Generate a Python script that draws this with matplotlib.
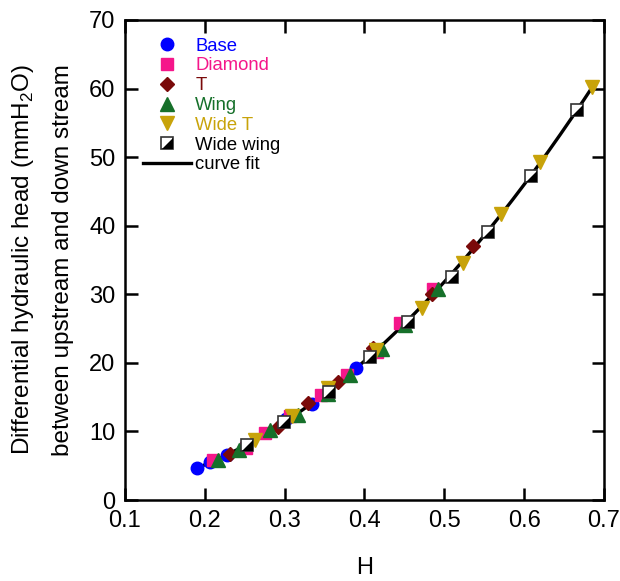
import numpy as np
import matplotlib
matplotlib.use("Agg")
import matplotlib.pyplot as plt

plt.rcParams["font.family"] = ["Liberation Sans", "DejaVu Sans"]
plt.rcParams["mathtext.fontset"] = "custom"
plt.rcParams["mathtext.rm"] = "Liberation Sans"

# data
base_x = [0.190, 0.207, 0.228, 0.302, 0.334, 0.389]
base_y = [4.7, 5.6, 6.6, 11.8, 14.0, 19.2]

diamond_x = [0.210, 0.252, 0.275, 0.307, 0.346, 0.378, 0.416, 0.445, 0.486]
diamond_y = [5.8, 7.6, 9.8, 12.3, 15.3, 18.2, 21.6, 25.8, 30.8]

t_x = [0.232, 0.292, 0.329, 0.367, 0.411, 0.485, 0.536]
t_y = [6.7, 10.6, 14.1, 17.2, 22.2, 30.0, 37.0]

wing_x = [0.217, 0.243, 0.282, 0.317, 0.354, 0.382, 0.422, 0.451, 0.492]
wing_y = [5.8, 7.3, 10.2, 12.4, 15.4, 18.2, 22.0, 25.5, 30.8]

widet_x = [0.263, 0.309, 0.354, 0.415, 0.472, 0.524, 0.571, 0.620, 0.685]
widet_y = [8.8, 12.2, 16.3, 21.9, 28.0, 34.6, 41.7, 49.3, 60.2]

wwing_x = [0.253, 0.299, 0.356, 0.407, 0.455, 0.510, 0.555, 0.609, 0.666]
wwing_y = [8.0, 11.4, 15.7, 20.9, 26.0, 32.5, 39.1, 47.3, 56.9]

xticks = [0.1, 0.2, 0.3, 0.4, 0.5, 0.6, 0.7]
yticks = [0, 10, 20, 30, 40, 50, 60, 70]

c_base = "#0000ff"
c_diamond = "#f5168a"
c_t = "#7a0a0a"
c_wing = "#16702a"
c_widet = "#c8a30a"

fig = plt.figure(figsize=(6.2, 5.81), dpi=100)
ax = fig.add_axes([0.2016, 0.1394, 0.7726, 0.8262])

# quadratic curve fit through all the measurements
all_x = np.concatenate([base_x, diamond_x, t_x, wing_x, widet_x, wwing_x])
all_y = np.concatenate([base_y, diamond_y, t_y, wing_y, widet_y, wwing_y])
coef = np.polyfit(all_x, all_y, 2)
fx = np.linspace(min(all_x), max(all_x), 200)
h_fit, = ax.plot(fx, np.polyval(coef, fx), color="black", lw=2.4, zorder=1)

h_base, = ax.plot(base_x, base_y, "o", color=c_base, ms=9, mec=c_base, ls="none", zorder=2)
h_dia, = ax.plot(diamond_x, diamond_y, "s", color=c_diamond, ms=8, ls="none", zorder=2)
h_t, = ax.plot(t_x, t_y, "D", color=c_t, ms=7.5, ls="none", zorder=2)
h_wing, = ax.plot(wing_x, wing_y, "^", color=c_wing, ms=10, ls="none", zorder=3)
h_widet, = ax.plot(widet_x, widet_y, "v", color=c_widet, ms=10, ls="none", zorder=3)

# half filled square: white square plus black lower-right triangle
tri = [(1, 1), (1, -1), (-1, -1), (1, 1)]
h_sq, = ax.plot(wwing_x, wwing_y, "s", mfc="white", mec="#333333", mew=1.2,
                ms=9, ls="none", zorder=4)
h_tri, = ax.plot(wwing_x, wwing_y, marker=tri, color="black", mec="black",
                 mew=0, ms=8, ls="none", zorder=5)

ax.set_xlim(0.1, 0.7)
ax.set_ylim(0, 70)
ax.set_xticks(xticks)
ax.set_yticks(yticks)
ax.set_xticklabels([f"{v:.1f}" for v in xticks])
ax.tick_params(direction="in", length=9, width=1.8, labelsize=17,
               top=True, right=True, pad=7)
for sp in ax.spines.values():
    sp.set_linewidth(1.8)

ax.set_xlabel("H", fontsize=17, labelpad=18)
fig.text(0.037, 0.5528, "Differential hydraulic head (mmH$_2$O)", rotation=90,
         ha="center", va="center", fontsize=17.5)
fig.text(0.102, 0.5528, "between upstream and down stream", rotation=90,
         ha="center", va="center", fontsize=17.5)

leg = ax.legend([h_base, h_dia, h_t, h_wing, h_widet, (h_sq, h_tri), h_fit],
                ["Base", "Diamond", "T", "Wing", "Wide T", "Wide wing", "curve fit"],
                loc="upper left", bbox_to_anchor=(0.01, 0.99), frameon=False,
                fontsize=13.3, handlelength=2.6, handletextpad=0.25,
                labelspacing=0.15, borderaxespad=0.3)
for txt, col in zip(leg.get_texts(),
                    [c_base, c_diamond, c_t, c_wing, c_widet, "black", "black"]):
    txt.set_color(col)

plt.savefig("out.png", dpi=100)
